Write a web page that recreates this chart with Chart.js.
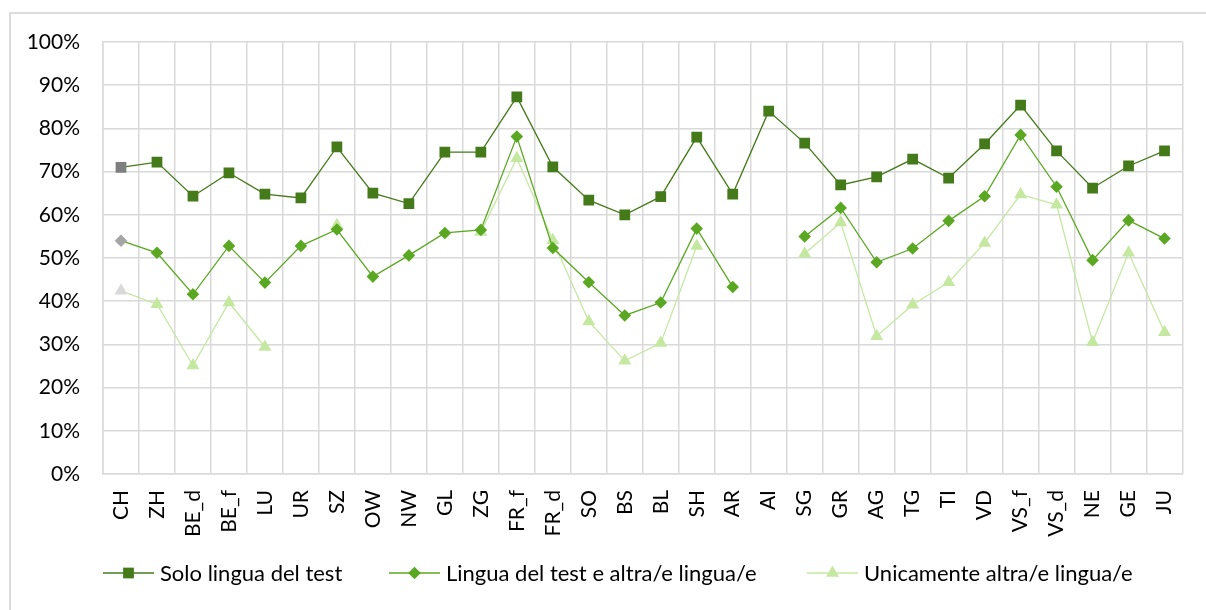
<!DOCTYPE html>
<html>
<head>
<meta charset="utf-8">
<script src="https://cdn.jsdelivr.net/npm/chart.js@4.4.1/dist/chart.umd.min.js"></script>
<style>
    html, body { margin: 0; padding: 0; background: #fff; overflow: hidden; }
    #frame {
        position: absolute; left: 9px; top: 12px;
        width: 1300px; height: 700px;
        border: 2px solid #dcdcdc;
    }
    #activityChart { position: absolute; left: 0; top: 0; }
</style>
</head>
<body>
<div id="frame"></div>
<canvas id="activityChart" width="1206" height="610"></canvas>
<script>
// Categories (cantons)
const cantons = ['CH', 'ZH', 'BE_d', 'BE_f', 'LU', 'UR', 'SZ', 'OW', 'NW', 'GL', 'ZG', 'FR_f', 'FR_d', 'SO', 'BS',
    'BL', 'SH', 'AR', 'AI', 'SG', 'GR', 'AG', 'TG', 'TI', 'VD', 'VS_f', 'VS_d', 'NE', 'GE', 'JU'];

// Series values (%), null = no value
const soloLingua = [71.0, 72.2, 64.3, 69.7, 64.8, 63.9, 75.7, 65.0, 62.6, 74.5, 74.5, 87.3, 71.1, 63.4, 60.0,
    64.2, 78.0, 64.8, 84.0, 76.6, 66.9, 68.8, 72.9, 68.5, 76.4, 85.4, 74.8, 66.2, 71.3, 74.8];
const linguaEAltra = [54.0, 51.2, 41.6, 52.8, 44.3, 52.8, 56.6, 45.7, 50.6, 55.8, 56.5, 78.1, 52.3, 44.4, 36.7,
    39.7, 56.8, 43.3, null, 55.0, 61.6, 49.0, 52.2, 58.6, 64.3, 78.5, 66.5, 49.5, 58.7, 54.5];
const soloAltra = [42.4, 39.3, 25.1, 39.7, 29.4, null, 57.6, null, null, null, 56.0, 73.1, 54.1, 35.3, 26.2,
    30.3, 52.8, null, null, 51.0, 58.2, 31.9, 39.2, 44.4, 53.5, 64.7, 62.3, 30.5, 51.2, 32.8];

const yTicks = [0, 10, 20, 30, 40, 50, 60, 70, 80, 90, 100];

const seriesLabels = ['Solo lingua del test', 'Lingua del test e altra/e lingua/e', 'Unicamente altra/e lingua/e'];

const FONT = 'Lato, "Open Sans", sans-serif';
const GRID = '#d9d9d9';

// first point (CH) is grey in every series
function pointColors(color, grey) {
    return cantons.map((c, i) => i === 0 ? grey : color);
}

function makeDataset(label, data, color, grey, style, radius) {
    return {
        label: label,
        data: data,
        borderColor: color,
        borderWidth: 1.3,
        backgroundColor: color,
        pointBackgroundColor: pointColors(color, grey),
        pointBorderColor: pointColors(color, grey),
        pointBorderWidth: 0,
        pointStyle: style,
        pointRadius: radius,
        pointHoverRadius: radius,
        spanGaps: false,
        tension: 0
    };
}

// Legend drawn the way the spreadsheet does it: line with marker in the middle
const lineLegend = {
    id: 'lineLegend',
    afterDraw(chart) {
        const ctx = chart.ctx;
        const positions = [103, 389, 807];
        const y = 573;
        ctx.save();
        chart.data.datasets.forEach((ds, i) => {
            const x0 = positions[i];
            ctx.strokeStyle = ds.borderColor;
            ctx.lineWidth = 1.5;
            ctx.beginPath();
            ctx.moveTo(x0, y);
            ctx.lineTo(x0 + 51, y);
            ctx.stroke();
            ctx.fillStyle = ds.borderColor;
            Chart.helpers.drawPoint(ctx, {
                pointStyle: ds.pointStyle,
                radius: ds.pointRadius,
                rotation: 0,
                borderWidth: 0
            }, x0 + 25.5, y);
            ctx.fillStyle = '#000';
            ctx.font = '22px ' + FONT;
            ctx.textBaseline = 'middle';
            ctx.textAlign = 'left';
            ctx.fillText(ds.label, x0 + 57, y + 1);
        });
        ctx.restore();
    }
};

const ctx = document.getElementById('activityChart').getContext('2d');
const activityChart = new Chart(ctx, {
    type: 'line',
    data: {
        labels: cantons,
        datasets: [
            makeDataset(seriesLabels[0], soloLingua, '#447a1a', '#7f7f7f', 'rect', 7.6),
            makeDataset(seriesLabels[1], linguaEAltra, '#5aa822', '#a5a5a5', 'rectRot', 6.3),
            makeDataset(seriesLabels[2], soloAltra, '#c4e8a0', '#d9d9d9', 'triangle', 7.5)
        ]
    },
    options: {
        responsive: false,
        animation: false,
        layout: {
            padding: { left: 0, top: 42, right: 16, bottom: 0 }
        },
        scales: {
            x: {
                offset: true,
                grid: {
                    color: GRID,
                    lineWidth: 1.5,
                    offset: true,
                    drawTicks: false
                },
                border: { color: GRID, width: 1.5 },
                ticks: {
                    color: '#000',
                    font: { family: FONT, size: 21 },
                    minRotation: 90,
                    maxRotation: 90,
                    autoSkip: false,
                    padding: 16
                },
                afterFit(axis) { axis.height = 136; }
            },
            y: {
                min: 0,
                max: 100,
                afterBuildTicks(axis) { axis.ticks = yTicks.map(v => ({ value: v })); },
                grid: {
                    color: GRID,
                    lineWidth: 1.5,
                    drawTicks: false
                },
                border: { color: GRID, width: 1.5 },
                ticks: {
                    color: '#000',
                    font: { family: FONT, size: 21 },
                    padding: 23,
                    callback: v => v + '%'
                },
                afterFit(axis) { axis.width = 103; }
            }
        },
        plugins: {
            legend: { display: false },
            tooltip: { enabled: false }
        }
    },
    plugins: [lineLegend]
});
</script>
</body>
</html>
